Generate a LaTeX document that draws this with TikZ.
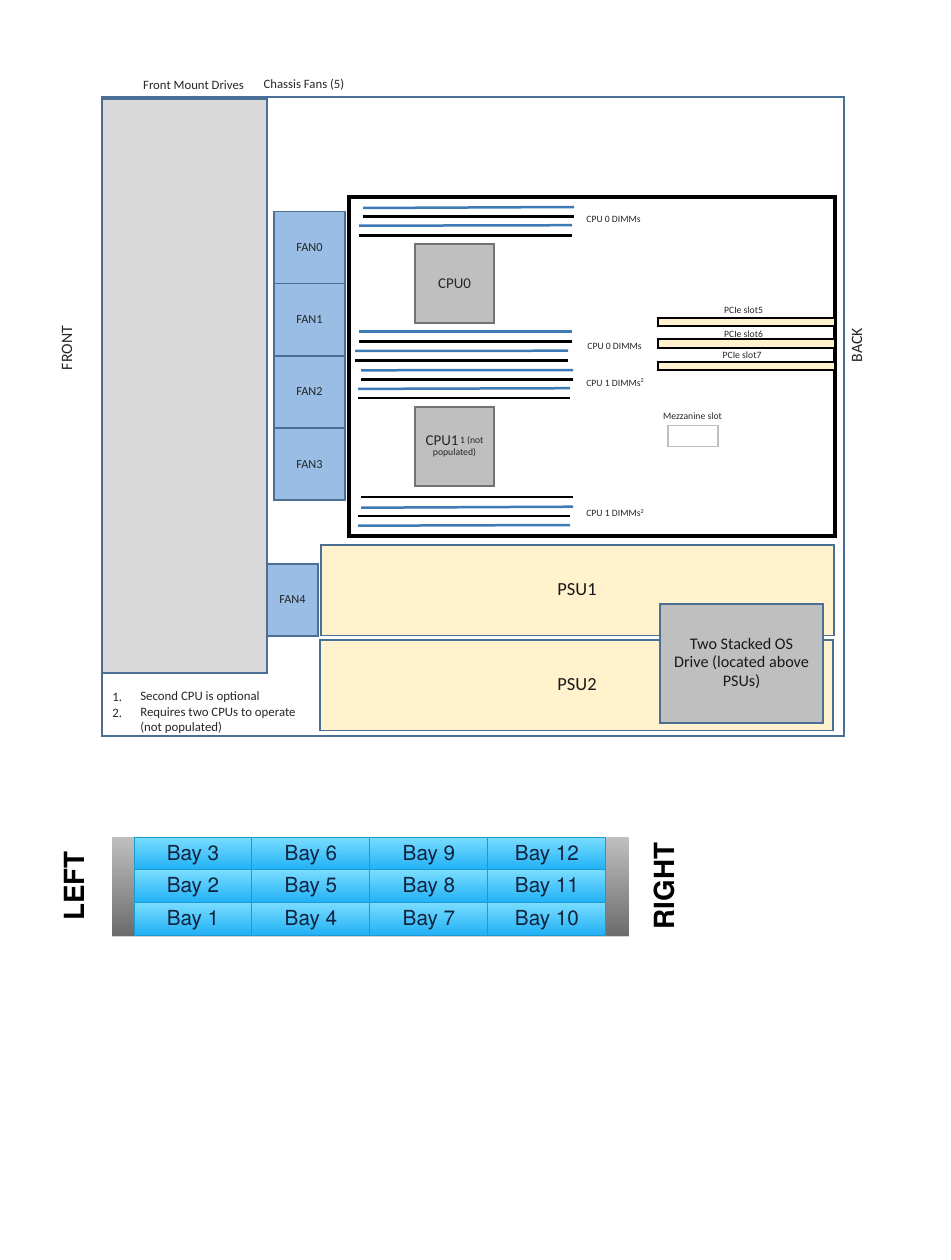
\documentclass[tikz,border=0pt]{standalone}
\usepackage{fontspec}
\setmainfont{Carlito}
\newfontfamily\bayfont{TeX Gyre Heros}
\usepackage{xcolor}
\usetikzlibrary{positioning, shadows}
\definecolor{steelline}{HTML}{4A6E94}
\definecolor{dimmblue}{HTML}{3E7AB5}
\definecolor{fanblue}{HTML}{9ABDE6}
\definecolor{psucream}{HTML}{FFF2CC}
\definecolor{drivegrey}{HTML}{D9D9D9}
\definecolor{cpugrey}{HTML}{BFBFBF}
\definecolor{baytop}{HTML}{7ADDFF}
\definecolor{baybottom}{HTML}{1FB0F5}
\definecolor{bayline}{HTML}{1B9CD0}
\definecolor{baytext}{HTML}{12233F}
\tikzset{
    panel/.style={
        rectangle,
        inner sep=0pt,
        outer sep=0pt,
        draw=steelline,
        line width=0.035cm,
        align=center,
    },
    fanbox/.style={
        panel,
        fill=fanblue,
        text=black!85,
        font=\fontsize{7}{8}\selectfont,
        minimum width=1.42cm,
        minimum height=1.445cm,
    },
    psubox/.style={
        panel,
        fill=psucream,
        anchor=north west,
        minimum height=1.81cm,
    },
    psutag/.style={
        inner sep=0pt,
        text=black!90,
        font=\fontsize{10.5}{12}\selectfont,
    },
    cpubox/.style={
        panel,
        draw=black!55,
        fill=cpugrey,
        text=black!85,
        minimum width=1.58cm,
        minimum height=1.58cm,
        font=\fontsize{8.5}{10}\selectfont,
    },
    slotbox/.style={
        rectangle,
        draw=black,
        line width=0.04cm,
        fill=psucream,
        inner sep=0pt,
        outer sep=0pt,
        anchor=north west,
        minimum width=3.54cm,
    },
    tag/.style={
        inner sep=0pt,
        text=black!85,
        font=\fontsize{5.5}{6}\selectfont,
    },
    toptag/.style={
        tag,
        font=\fontsize{7.25}{8}\selectfont,
    },
    sidetag/.style={
        inner sep=0pt,
        rotate=90,
        text=black!85,
        font=\fontsize{9}{10}\selectfont,
    },
    bigtag/.style={
        inner sep=0pt,
        rotate=90,
        font=\bayfont\bfseries\fontsize{15.8}{18}\selectfont,
    },
    notetag/.style={
        inner sep=0pt,
        anchor=west,
        text=black!85,
        font=\fontsize{7.3}{8}\selectfont,
    },
    baycell/.style={
        rectangle,
        draw=bayline,
        line width=0.02cm,
        top color=baytop,
        bottom color=baybottom,
        text=baytext,
        inner sep=0pt,
        outer sep=0pt,
        text height=0.34cm,
        text depth=0.08cm,
        minimum width=2.36cm,
        minimum height=0.653cm,
        font=\bayfont\fontsize{11.8}{13}\selectfont,
    },
    endcap/.style={
        rectangle,
        inner sep=0pt,
        outer sep=0pt,
        top color=black!25,
        bottom color=black!58,
        minimum width=0.44cm,
        minimum height=1.97cm,
    },
    dimmb/.style={dimmblue, line width=0.05cm},
    dimmk/.style={black, line width=0.05cm},
}
\newcommand{\tinysup}{\raisebox{2pt}{\fontsize{3.5}{4}\selectfont 2}}
\begin{document}
\begin{tikzpicture}[x=0.02cm,y=-0.02cm]
      \useasboundingbox (0,0) rectangle (950,1260);

      \node [panel, anchor=north west, minimum width=14.84cm, minimum height=12.78cm] (Chassis) at (102,97) {};
      \node [panel, anchor=north west, fill=drivegrey, minimum width=3.3cm, minimum height=11.48cm] (Drives) at (102,99) {};
      \node [toptag] (DrivesTag) at (193.5,85) {Front Mount Drives};
      \node [toptag] (FansTag) at (304,85) {Chassis Fans (5)};
      \node [sidetag] (Front) at (67,348) {FRONT};
      \node [sidetag] (Back) at (857,345) {BACK};

      \node [fanbox] (FAN0) at (309.5,247.5) {FAN0};
      \node [fanbox] (FAN1) [below=0pt of FAN0] {FAN1};
      \node [fanbox] (FAN2) [below=0pt of FAN1] {FAN2};
      \node [fanbox] (FAN3) [below=0pt of FAN2] {FAN3};
      \node [fanbox, minimum width=1.02cm] (FAN4) at (292.5,600) {FAN4};

      \node [rectangle, draw=black, line width=0.08cm, anchor=north west, inner sep=0pt, outer sep=0pt, minimum width=9.74cm, minimum height=6.78cm] (Board) at (348.5,197) {};

      \node [cpubox] (CPU0) at (454.5,283.5) {CPU0};
      \node [cpubox] (CPU1) at (454.5,446.5) {CPU1\fontsize{5.5}{6}\selectfont\raisebox{1.5pt}{\,1 (not}\\[-4.5pt]\fontsize{5.5}{6}\selectfont populated)};

      \draw [dimmb] (363,208) -- (574,207);
      \draw [dimmk] (363,216.7) -- (574,216.7);
      \draw [dimmb] (359,225.7) -- (572,225.2);
      \draw [dimmk] (359,235.7) -- (572,235.7);

      \draw [dimmb] (359,331.7) -- (572,331.7);
      \draw [dimmk] (359,341.3) -- (572,341.3);
      \draw [dimmb] (355,351) -- (568,350.7);
      \draw [dimmk] (355,360.3) -- (568,360.3);
      \draw [dimmb] (361,370.3) -- (573,370);
      \draw [dimmk] (361,379.5) -- (573,379.5);
      \draw [dimmb] (358,388.9) -- (570,388.2);
      \draw [dimmk] (358,398) -- (570,398);

      \draw [dimmk] (361,497) -- (573,497);
      \draw [dimmb] (361,507.7) -- (573,506.7);
      \draw [dimmk] (358,516) -- (570,516);
      \draw [dimmb] (358,525.7) -- (570,525);

      \node [tag] (DimmTagA) at (613.5,219.5) {CPU 0 DIMMs};
      \node [tag] (DimmTagB) at (614.5,346.5) {CPU 0 DIMMs};
      \node [tag] (DimmTagC) at (615,382.5) {CPU 1 DIMMs\tinysup};
      \node [tag] (DimmTagD) at (615,513) {CPU 1 DIMMs\tinysup};

      \node [slotbox, minimum height=0.16cm] (Slot5) at (658,317.7) {};
      \node [slotbox, minimum height=0.18cm] (Slot6) at (658,338.7) {};
      \node [slotbox, minimum height=0.166cm] (Slot7) at (658,361.7) {};
      \node [tag] (SlotTag5) at (743.5,310) {PCIe slot5};
      \node [tag] (SlotTag6) at (743.5,334) {PCIe slot6};
      \node [tag] (SlotTag7) at (742,355) {PCIe slot7};

      \node [tag] (MezzTag) at (692.5,416) {Mezzanine slot};
      \node [rectangle, draw=black!25, line width=0.03cm, fill=white, anchor=north west, inner sep=0pt, outer sep=0pt, minimum width=1cm, minimum height=0.42cm] (Mezz) at (668,425.5) {};

      \node [psubox, minimum width=10.26cm] (PSU1) at (321,545) {};
      \node [psubox, minimum width=10.26cm] (PSU2) at (320,640) {};
      \node [psutag] (PSU1Tag) at (577,590) {PSU1};
      \node [psutag] (PSU2Tag) at (577,685) {PSU2};
      \node [panel, anchor=north west, fill=cpugrey, text=black!90, font=\fontsize{9.2}{10.4}\selectfont, minimum width=3.26cm, minimum height=2.38cm] (OSDrive) at (660,604) {Two Stacked OS\\Drive (located above\\PSUs)};

      \node [notetag] (NoteNumA) at (112,697) {1.};
      \node [notetag] (NoteA) at (140,697) {Second CPU is optional};
      \node [notetag] (NoteNumB) at (112,713) {2.};
      \node [notetag] (NoteB) at (140,713) {Requires two CPUs to operate};
      \node [notetag] (NoteC) at (140,728) {(not populated)};

      \node [rectangle, fill=black!40, anchor=north west, inner sep=0pt, outer sep=0pt, minimum width=10.34cm, minimum height=1.97cm, drop shadow={shadow xshift=0pt, shadow yshift=-0.03cm, opacity=0.35}] (Tray) at (112,837.5) {};
      \node [endcap] (CapLeft) at (123,886.5) {};
      \node [endcap] (CapRight) at (617.5,886.5) {};

      \node [baycell] (Bay3) at (193,853.5) {Bay 3};
      \node [baycell] (Bay2) [below=0pt of Bay3] {Bay 2};
      \node [baycell] (Bay1) [below=0pt of Bay2] {Bay 1};
      \node [baycell] (Bay6) [right=0pt of Bay3] {Bay 6};
      \node [baycell] (Bay5) [below=0pt of Bay6] {Bay 5};
      \node [baycell] (Bay4) [below=0pt of Bay5] {Bay 4};
      \node [baycell] (Bay9) [right=0pt of Bay6] {Bay 9};
      \node [baycell] (Bay8) [below=0pt of Bay9] {Bay 8};
      \node [baycell] (Bay7) [below=0pt of Bay8] {Bay 7};
      \node [baycell] (Bay12) [right=0pt of Bay9] {Bay 12};
      \node [baycell] (Bay11) [below=0pt of Bay12] {Bay 11};
      \node [baycell] (Bay10) [below=0pt of Bay11] {Bay 10};

      \node [bigtag] (Left) at (74,886) {LEFT};
      \node [bigtag] (Right) at (664,886) {RIGHT};
    \end{tikzpicture}
\end{document}
